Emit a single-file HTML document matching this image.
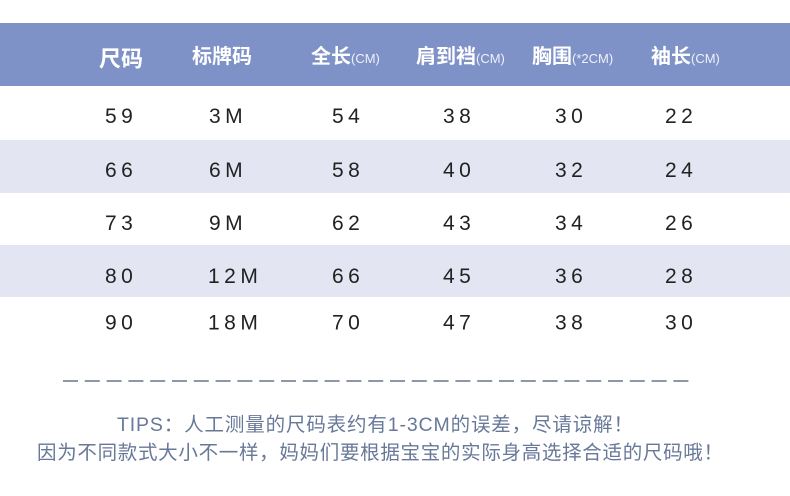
<!DOCTYPE html>
<html>
<head>
<meta charset="utf-8">
<style>
  html, body { margin:0; padding:0; background:#ffffff; }
  body { width:790px; height:496px; overflow:hidden; }
  svg { display:block; }
  .hd { font-family:"Noto Sans CJK SC","Liberation Sans",sans-serif; font-weight:700; fill:#ffffff; }
  .un { font-family:"Liberation Sans","Noto Sans CJK SC",sans-serif; font-weight:400; fill:#eef1fa; font-size:13px; }
  .d { font-family:"Liberation Sans","Noto Sans CJK SC",sans-serif; font-size:21px; fill:#222222; letter-spacing:4.5px; }
  .tip { font-family:"Liberation Sans","Noto Sans CJK SC",sans-serif; font-size:19.5px; fill:#687899; }
</style>
</head>
<body>
<svg width="790" height="496" viewBox="0 0 790 496" xmlns="http://www.w3.org/2000/svg">
  <rect x="0" y="0" width="790" height="496" fill="#ffffff"/>
  <!-- header band -->
  <rect x="0" y="23" width="790" height="63" fill="#7f92c7"/>
  <!-- striped rows -->
  <rect x="0" y="140" width="790" height="53" fill="#e3e6f2"/>
  <rect x="0" y="245" width="790" height="52" fill="#e3e6f2"/>

  <!-- header text -->
  <text class="hd" x="99" y="66.5" font-size="22">尺码</text>
  <text class="hd" x="192" y="63" font-size="20">标牌码</text>
  <text class="hd" x="311" y="63" font-size="20">全长<tspan class="un">(CM)</tspan></text>
  <text class="hd" x="416" y="63" font-size="20">肩到裆<tspan class="un">(CM)</tspan></text>
  <text class="hd" x="532" y="63" font-size="20">胸围<tspan class="un">(*2CM)</tspan></text>
  <text class="hd" x="651" y="63" font-size="20">袖长<tspan class="un">(CM)</tspan></text>

  <!-- data rows -->
  <g class="d">
    <text x="105" y="123">59</text>
    <text x="209" y="123">3M</text>
    <text x="332" y="123">54</text>
    <text x="443" y="123">38</text>
    <text x="555" y="123">30</text>
    <text x="665" y="123">22</text>

    <text x="105" y="177">66</text>
    <text x="209" y="177">6M</text>
    <text x="332" y="177">58</text>
    <text x="443" y="177">40</text>
    <text x="555" y="177">32</text>
    <text x="665" y="177">24</text>

    <text x="105" y="230">73</text>
    <text x="209" y="230">9M</text>
    <text x="332" y="230">62</text>
    <text x="443" y="230">43</text>
    <text x="555" y="230">34</text>
    <text x="665" y="230">26</text>

    <text x="105" y="283">80</text>
    <text x="208" y="283">12M</text>
    <text x="332" y="283">66</text>
    <text x="443" y="283">45</text>
    <text x="555" y="283">36</text>
    <text x="665" y="283">28</text>

    <text x="105" y="329.5">90</text>
    <text x="208" y="329.5">18M</text>
    <text x="332" y="329.5">70</text>
    <text x="443" y="329.5">47</text>
    <text x="555" y="329.5">38</text>
    <text x="665" y="329.5">30</text>
  </g>

  <!-- dashed separator -->
  <line x1="63" y1="381" x2="689" y2="381" stroke="#8e96aa" stroke-width="2" stroke-dasharray="15 6.8"/>

  <!-- tips -->
  <text class="tip" x="117" y="431" textLength="516" lengthAdjust="spacing">TIPS：人工测量的尺码表约有1-3CM的误差，尽请谅解！</text>
  <text class="tip" x="37" y="459" textLength="686" lengthAdjust="spacing">因为不同款式大小不一样，妈妈们要根据宝宝的实际身高选择合适的尺码哦！</text>
</svg>
</body>
</html>
